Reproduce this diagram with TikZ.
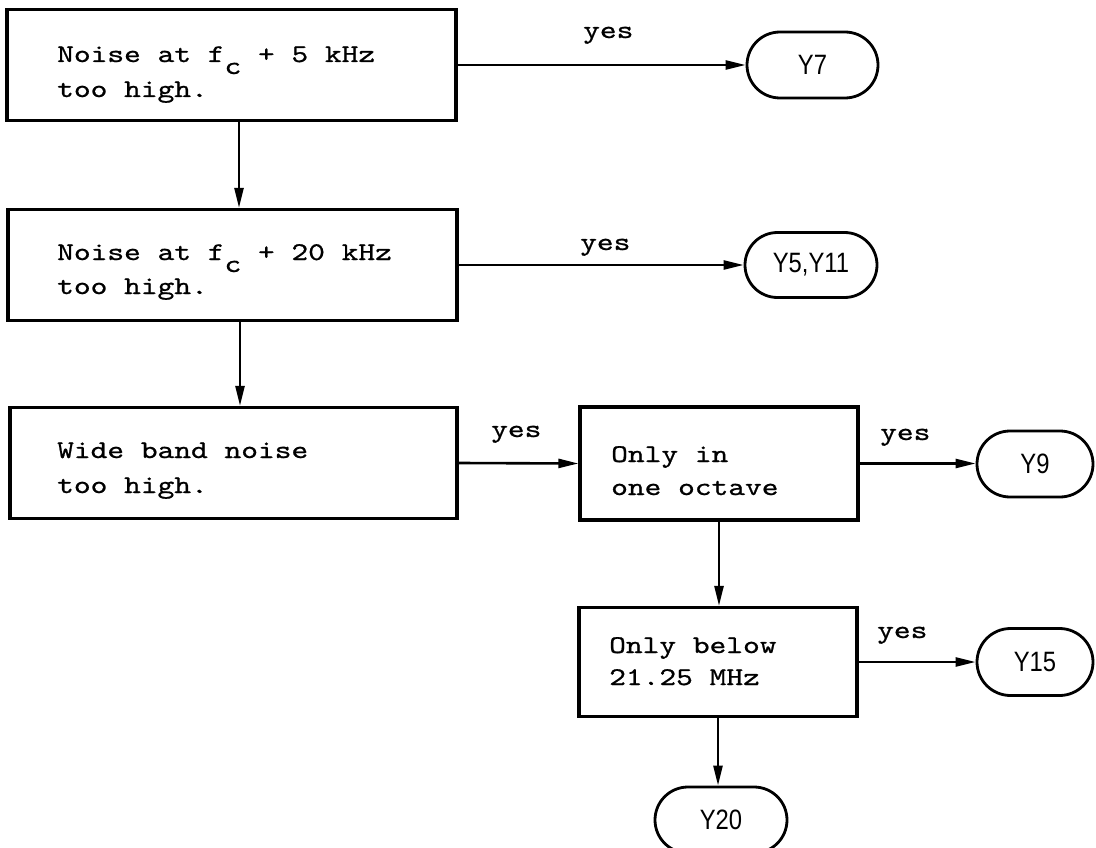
\documentclass[tikz,border=0pt]{standalone}
\usepackage{fontspec}
\newfontfamily\ovalfont[FakeStretch=0.85]{Liberation Sans}
\newfontfamily\twfont[FakeStretch=1.25,FakeBold=0.8]{lmmono10-regular.otf}
\usetikzlibrary{arrows.meta,shapes.misc,calc}
\tikzset{
  boxnode/.style={draw, line width=3.2pt, minimum width=#1, minimum height=111pt, inner sep=0pt},
  boxnode/.default=449pt,
  ovalnode/.style={draw, line width=2.8pt, rounded rectangle, minimum width=131pt, minimum height=66pt, inner sep=0pt, font=\ovalfont\fontsize{28}{30}\selectfont},
  txt/.style={anchor=base west, inner sep=0pt, font=\twfont\fontsize{25.5}{35}\selectfont},
  conn/.style={line width=2.6pt, -{Triangle[length=20pt,width=9pt]}},
}
\newcommand{\subc}{\raisebox{-12pt}{c}}
\begin{document}
\begin{tikzpicture}[x=1pt,y=-1pt]
\useasboundingbox (0,0) rectangle (1096,848);
% boxes
\node[boxnode] (b1) at (231.5,65) {};
\node[boxnode] (b2) at (232.5,265) {};
\node[boxnode=447pt] (b3) at (233.5,463) {};
\node[boxnode=278pt, minimum height=113pt] (b4) at (719,463.5) {};
\node[boxnode=278pt, minimum height=109pt] (b5) at (718,662) {};
% terminals
\node[ovalnode] (y7) at (812.5,65) {Y7};
\node[ovalnode, minimum height=65pt, minimum width=132pt] (y511) at (811,265) {Y5,Y11};
\node[ovalnode, minimum width=116pt] (y9) at (1035,464) {Y9};
\node[ovalnode, minimum width=116pt, minimum height=67pt] (y15) at (1035,662) {Y15};
\node[ovalnode, minimum width=132pt] (y20) at (721,820) {Y20};
% box texts
\node[txt] (t1a) at (57,62) {Noise at f\subc{} + 5 kHz};
\node[txt] (t1b) at (57,97) {too high.};
\node[txt] (t2a) at (57,260) {Noise at f\subc{} + 20 kHz};
\node[txt] (t2b) at (57,294) {too high.};
\node[txt] (t3a) at (57,458) {Wide band noise};
\node[txt] (t3b) at (57,493) {too high.};
\node[txt] (t4a) at (611,462) {Only in};
\node[txt] (t4b) at (611,495) {one octave};
\node[txt] (t5a) at (609,653) {Only below};
\node[txt] (t5b) at (609,685) {21.25 MHz};
% yes labels
\node[txt] (l1) at (583,38) {yes};
\node[txt] (l2) at (580,250) {yes};
\node[txt] (l3) at (491,437) {yes};
\node[txt] (l4) at (880,440) {yes};
\node[txt] (l5) at (877,638) {yes};
% connectors
\draw[conn] (b1.east) -- (y7.west);
\draw[conn] (b2.east) -- (y511.west);
\draw[conn] (b3.east) -- (b4.west);
\draw[conn] (b4.east) -- (b4.east -| y9.west);
\draw[conn] (b5.east) -- (b5.east -| y15.west);
\draw[conn] ($(b1.south)+(7.5,0)$) -- ($(b2.north)+(6.5,0)$);
\draw[conn] ($(b2.south)+(7.5,0)$) -- ($(b3.north)+(6.5,0)$);
\draw[conn] (b4.south) -- (b5.north -| b4.south);
\draw[conn] (b5.south) -- (y20.north -| b5.south);
\end{tikzpicture}
\end{document}
